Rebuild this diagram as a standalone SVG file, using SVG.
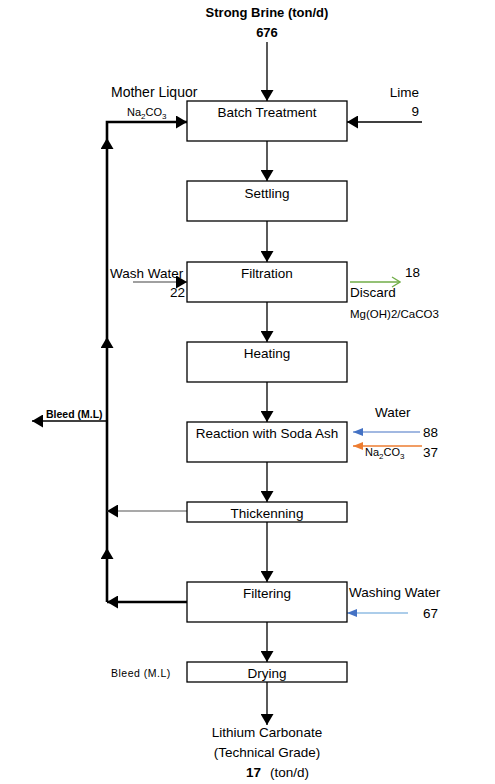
<svg xmlns="http://www.w3.org/2000/svg" width="495" height="784" viewBox="0 0 495 784">
<style>
  text { font-family: "Liberation Sans", Arial, sans-serif; fill: #000; }
  .lbl { font-size: 13.5px; }
  .bold { font-weight: bold; }
  .sm { font-size: 11px; }
  .box { fill: #fff; stroke: #000; stroke-width: 1.3; }
  .thin { fill: none; stroke: #000; stroke-width: 1.3; }
  .thick { fill: none; stroke: #000; stroke-width: 2.6; }
</style>
<defs>
  <marker id="ah" markerUnits="userSpaceOnUse" markerWidth="12" markerHeight="13" refX="11" refY="6.5" orient="auto">
    <path d="M0,0 L11,6.5 L0,13 Z" fill="#000"/>
  </marker>
  <marker id="ahBlue" markerUnits="userSpaceOnUse" markerWidth="10" markerHeight="8" refX="10" refY="4" orient="auto">
    <path d="M0,0 L10,4 L0,8 Z" fill="#4472C4"/>
  </marker>
  <marker id="ahOrange" markerUnits="userSpaceOnUse" markerWidth="10" markerHeight="8" refX="10" refY="4" orient="auto">
    <path d="M0,0 L10,4 L0,8 Z" fill="#ED7D31"/>
  </marker>
  <marker id="ahGreen" markerUnits="userSpaceOnUse" markerWidth="10" markerHeight="12" refX="9" refY="6" orient="auto">
    <path d="M1,1 L9,6 L1,11" fill="none" stroke="#70AD47" stroke-width="1.3"/>
  </marker>
</defs>
<rect width="495" height="784" fill="#fff"/>

<g id="connectors">
  <!-- main vertical flow -->
  <path class="thin" d="M267,42 V101" marker-end="url(#ah)"/>
  <path class="thin" d="M267,141 V181" marker-end="url(#ah)"/>
  <path class="thin" d="M267,221 V262" marker-end="url(#ah)"/>
  <path class="thin" d="M267,302 V342" marker-end="url(#ah)"/>
  <path class="thin" d="M267,382 V422" marker-end="url(#ah)"/>
  <path class="thin" d="M267,462 V502" marker-end="url(#ah)"/>
  <path class="thin" d="M267,522 V582" marker-end="url(#ah)"/>
  <path class="thin" d="M267,622 V662" marker-end="url(#ah)"/>
  <path class="thin" d="M267,682 V725" marker-end="url(#ah)"/>
  <!-- lime -->
  <path class="thin" d="M422,122 H347" marker-end="url(#ah)"/>
  <!-- mother liquor recycle loop -->
  <path class="thick" d="M187,602 H107" marker-end="url(#ah)"/>
  <path class="thick" d="M107,602 V548" marker-end="url(#ah)"/>
  <path class="thick" d="M107,548 V337" marker-end="url(#ah)"/>
  <path class="thick" d="M107,337 V138" marker-end="url(#ah)"/>
  <path class="thick" d="M107,138 V122 H187" marker-end="url(#ah)"/>
  <path fill="none" stroke="#555" stroke-width="1.2" d="M187,511 H107" marker-end="url(#ah)"/>
  <!-- bleed -->
  <path fill="none" stroke="#000" stroke-width="1.3" d="M107,421 H32" marker-end="url(#ah)"/>
  <!-- wash water -->
  <path fill="none" stroke="#808080" stroke-width="1.3" d="M133,282 H187" marker-end="url(#ah)"/>
  <!-- discard -->
  <path fill="none" stroke="#70AD47" stroke-width="1.3" d="M350,282 H400" marker-end="url(#ahGreen)"/>
  <!-- water / soda ash -->
  <path fill="none" stroke="#4472C4" stroke-width="1.2" d="M420,432 H353" marker-end="url(#ahBlue)"/>
  <path fill="none" stroke="#ED7D31" stroke-width="1.5" d="M422,446 H353" marker-end="url(#ahOrange)"/>
  <!-- washing water -->
  <path fill="none" stroke="#5B9BD5" stroke-width="1.2" d="M408,613 H347" marker-end="url(#ahBlue)"/>
</g>

<g id="batch-treatment">
  <rect class="box" x="187" y="101" width="160" height="40"/>
  <text class="lbl" x="267" y="117" text-anchor="middle">Batch Treatment</text>
</g>
<g id="settling">
  <rect class="box" x="187" y="181" width="160" height="40"/>
  <text class="lbl" x="267" y="198" text-anchor="middle">Settling</text>
</g>
<g id="filtration">
  <rect class="box" x="187" y="262" width="160" height="40"/>
  <text class="lbl" x="267" y="278" text-anchor="middle">Filtration</text>
</g>
<g id="heating">
  <rect class="box" x="187" y="342" width="160" height="40"/>
  <text class="lbl" x="267" y="358" text-anchor="middle">Heating</text>
</g>
<g id="reaction">
  <rect class="box" x="187" y="422" width="160" height="40"/>
  <text class="lbl" x="267" y="438" text-anchor="middle">Reaction with Soda Ash</text>
</g>
<g id="thickening">
  <rect class="box" x="187" y="502" width="160" height="20"/>
  <text class="lbl" x="267" y="518" text-anchor="middle">Thickenning</text>
</g>
<g id="filtering">
  <rect class="box" x="187" y="582" width="160" height="40"/>
  <text class="lbl" x="267" y="598" text-anchor="middle">Filtering</text>
</g>
<g id="drying">
  <rect class="box" x="187" y="662" width="160" height="20"/>
  <text class="lbl" x="267" y="678" text-anchor="middle">Drying</text>
</g>

<g id="strong-brine">
  <text class="bold" font-size="13px" x="267" y="17" text-anchor="middle">Strong Brine (ton/d)</text>
  <text class="bold" font-size="13px" x="267" y="37" text-anchor="middle">676</text>
</g>
<g id="mother-liquor">
  <text font-size="14px" x="111" y="97">Mother Liquor</text>
  <text font-size="11px" x="127" y="116">Na<tspan font-size="8px" dy="3">2</tspan><tspan dy="-3">CO</tspan><tspan font-size="8px" dy="3">3</tspan></text>
</g>
<g id="lime">
  <text class="lbl" x="419" y="97" text-anchor="end">Lime</text>
  <text class="lbl" x="419" y="116" text-anchor="end">9</text>
</g>
<g id="wash-water">
  <text class="lbl" x="110" y="278">Wash Water</text>
  <text class="lbl" x="185" y="297" text-anchor="end">22</text>
</g>
<g id="discard">
  <text class="lbl" x="405" y="277">18</text>
  <text class="lbl" x="350" y="297">Discard</text>
  <text font-size="11.5px" x="350" y="318">Mg(OH)2/CaCO3</text>
</g>
<g id="bleed-top">
  <text class="bold" font-size="10.5px" x="46" y="418">Bleed (M.L)</text>
</g>
<g id="water">
  <text class="lbl" x="375" y="417">Water</text>
  <text class="lbl" x="423" y="437">88</text>
  <text font-size="11px" x="365" y="456">Na<tspan font-size="8px" dy="3">2</tspan><tspan dy="-3">CO</tspan><tspan font-size="8px" dy="3">3</tspan></text>
  <text class="lbl" x="423" y="457">37</text>
</g>
<g id="washing-water">
  <text class="lbl" x="349" y="597">Washing Water</text>
  <text class="lbl" x="423" y="618">67</text>
</g>
<g id="bleed-bottom">
  <text font-size="10.5px" letter-spacing="0.5" x="111" y="677">Bleed (M.L)</text>
</g>
<g id="lithium-carbonate">
  <text class="lbl" x="267" y="737" text-anchor="middle">Lithium Carbonate</text>
  <text class="lbl" x="267" y="757" text-anchor="middle">(Technical Grade)</text>
  <text class="lbl" x="246" y="777"><tspan font-weight="bold">17</tspan><tspan x="270">(ton/d)</tspan></text>
</g>
</svg>
